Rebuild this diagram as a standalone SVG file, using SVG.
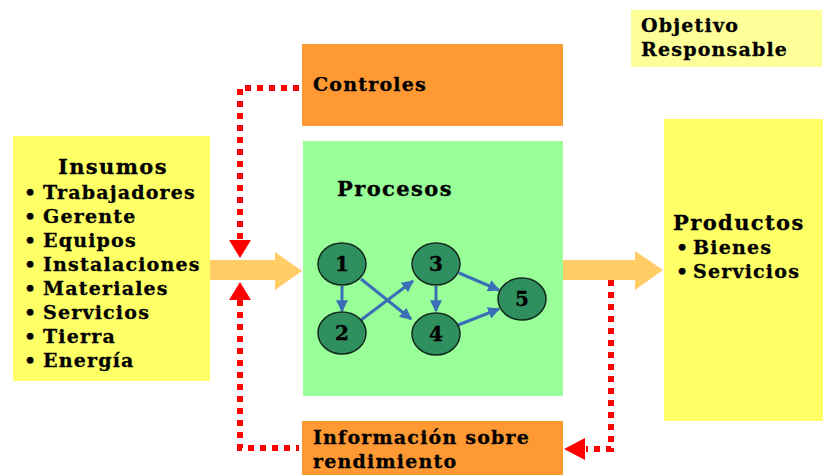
<svg xmlns="http://www.w3.org/2000/svg" width="824" height="475" viewBox="0 0 824 475">
  <defs>
    <style>
      text { font-family: "DejaVu Serif", "Liberation Serif", serif; font-weight: bold; fill: #000; stroke: #000; stroke-width: 0.3; }
      .lbl { font-size: 19px; letter-spacing: 1.2px; }
      .head { font-size: 21px; letter-spacing: 1.4px; }
      .num { font-size: 20px; text-anchor: middle; }
      .yellow { fill: #FFFF66; }
      .pale { fill: #FFFF99; }
      .orange { fill: #FF9933; }
      .green { fill: #99FF99; }
      .node { fill: #2F8F5F; stroke: #12281C; stroke-width: 1.5; }
      .edge { stroke: #3A6FB8; stroke-width: 3; fill: none; marker-end: url(#blueHead); }
      .dot { stroke: #FF0000; stroke-width: 6; fill: none; stroke-dasharray: 6 6; }
      .flow { fill: #FFCC66; }
      .redhead { fill: #FF0000; }
    </style>
    <marker id="blueHead" viewBox="0 0 10 10" refX="9" refY="5" markerWidth="4" markerHeight="4" orient="auto" markerUnits="strokeWidth">
      <path d="M0,0 L10,5 L0,10 z" fill="#3A6FB8"/>
    </marker>
  </defs>

  <!-- boxes -->
  <g id="objetivo">
    <rect class="pale" x="631" y="10" width="191" height="57"/>
    <text class="lbl" x="641" y="32">Objetivo</text>
    <text class="lbl" x="641" y="56">Responsable</text>
  </g>

  <g id="controles">
    <rect class="orange" x="302" y="44" width="261" height="82"/>
    <text class="lbl" x="313" y="91">Controles</text>
  </g>

  <g id="insumos">
    <rect class="yellow" x="13" y="136" width="197" height="245"/>
    <text class="head" x="113" y="174" text-anchor="middle">Insumos</text>
    <g class="lbl">
      <text x="24" y="199">•</text><text x="43" y="199">Trabajadores</text>
      <text x="24" y="223">•</text><text x="43" y="223">Gerente</text>
      <text x="24" y="247">•</text><text x="43" y="247">Equipos</text>
      <text x="24" y="271">•</text><text x="43" y="271">Instalaciones</text>
      <text x="24" y="295">•</text><text x="43" y="295">Materiales</text>
      <text x="24" y="319">•</text><text x="43" y="319">Servicios</text>
      <text x="24" y="343">•</text><text x="43" y="343">Tierra</text>
      <text x="24" y="367">•</text><text x="43" y="367">Energía</text>
    </g>
  </g>

  <g id="procesos">
    <rect class="green" x="303" y="141" width="260" height="255"/>
    <text class="head" x="337" y="196">Procesos</text>
  </g>

  <g id="productos">
    <rect class="yellow" x="664" y="119" width="159" height="302"/>
    <text class="head" x="673" y="230">Productos</text>
    <text class="lbl" x="676" y="254">•</text><text class="lbl" x="693" y="254">Bienes</text>
    <text class="lbl" x="676" y="278">•</text><text class="lbl" x="693" y="278">Servicios</text>
  </g>

  <g id="informacion">
    <rect class="orange" x="302" y="421" width="261" height="56"/>
    <text class="lbl" x="313" y="444">Información sobre</text>
    <text class="lbl" x="313" y="468">rendimiento</text>
  </g>

  <!-- connectors -->
  <g id="connectors">
    <!-- main flow arrows -->
    <path class="flow" d="M210,260 H275 V252 L302,271 L275,290 V280 H210 Z"/>
    <path class="flow" d="M563,260 H635 V251 L663,270 L635,290 V280 H563 Z"/>

    <!-- control feedback loop -->
    <path class="dot" d="M299,88 H240 V240"/>
    <path class="redhead" d="M229,240 L251,240 L240,258 Z"/>
    <path class="dot" d="M240,300 V448 H299"/>
    <path class="redhead" d="M229,300 L251,300 L240,282 Z"/>

    <!-- performance feedback -->
    <path class="dot" d="M611,280 V449 H586"/>
    <path class="redhead" d="M585,438 L585,460 L564,449 Z"/>

    <!-- process network edges -->
    <line class="edge" x1="342" y1="286" x2="342" y2="311"/>
    <line class="edge" x1="361" y1="279" x2="411" y2="319"/>
    <line class="edge" x1="361" y1="320" x2="413" y2="281"/>
    <line class="edge" x1="436" y1="286" x2="436" y2="311"/>
    <line class="edge" x1="459" y1="273" x2="499" y2="290"/>
    <line class="edge" x1="458" y1="325" x2="499" y2="309"/>
  </g>

  <!-- process network nodes -->
  <g id="n1"><ellipse class="node" cx="342" cy="264" rx="24" ry="21"/><text class="num" x="342" y="271">1</text></g>
  <g id="n2"><ellipse class="node" cx="342" cy="333" rx="24" ry="21"/><text class="num" x="342" y="340">2</text></g>
  <g id="n3"><ellipse class="node" cx="436" cy="264" rx="24" ry="21"/><text class="num" x="436" y="271">3</text></g>
  <g id="n4"><ellipse class="node" cx="436" cy="334" rx="24" ry="21"/><text class="num" x="436" y="341">4</text></g>
  <g id="n5"><ellipse class="node" cx="522" cy="299" rx="24" ry="21"/><text class="num" x="522" y="306">5</text></g>
</svg>
